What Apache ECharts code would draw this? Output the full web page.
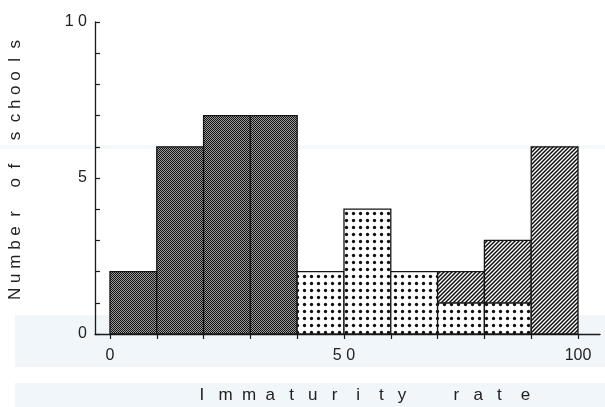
<!DOCTYPE html>
<html>
<head>
<meta charset="utf-8">
<script src="https://cdn.jsdelivr.net/npm/echarts@6/dist/echarts.min.js"></script>
<style>
html,body{margin:0;padding:0;background:#fff;}
#chart{width:605px;height:407px;}
</style>
</head>
<body>
<div id="chart"></div>
<script>
// ---- data ----
const binStarts = [0, 10, 20, 30, 40, 50, 60, 70, 80, 90];
const binWidth = 10;
const solidCounts   = [2, 6, 7, 7, 0, 0, 0, 0, 0, 0];
const dottedCounts  = [0, 0, 0, 0, 2, 4, 2, 1, 1, 0];
const hatchedCounts = [0, 0, 0, 0, 0, 0, 0, 1, 2, 6];
const xTickValues  = [0, 10, 20, 30, 40, 50, 60, 70, 80, 90, 100];
const xLabelValues = [0, 50, 100];
const xLabelTexts  = ['0', '5 0', '100'];
const yLabelValues = [0, 5, 10];
const yLabelTexts  = ['0', '5', '1 0'];

function sp(n) { return ' '.repeat(n); }
const yTitle = 'N' + sp(1) + 'u' + sp(1) + 'm' + sp(1) + 'b' + sp(1) + 'e' + sp(2) + 'r' + sp(5) +
               'o' + sp(2) + 'f' + sp(5) +
               's' + sp(2) + 'c' + sp(1) + 'h' + sp(1) + 'o' + sp(1) + 'o' + sp(2) + 'l' + sp(2) + 's';
const xTitle = 'I' + sp(3) + 'm' + sp(2) + 'm' + sp(2) + 'a' + sp(3) + 't' + sp(3) + 'u' + sp(3) + 'r' + sp(4) +
               'i' + sp(4) + 't' + sp(3) + 'y' + sp(10) +
               'r' + sp(3) + 'a' + sp(3) + 't' + sp(4) + 'e';

// ---- fill patterns ----
function makeCanvas(w, h) { const c = document.createElement('canvas'); c.width = w; c.height = h; return c; }
function darkPattern() {
  const c = makeCanvas(4, 4), g = c.getContext('2d');
  g.fillStyle = '#9c9c9c'; g.fillRect(0, 0, 4, 4);
  g.fillStyle = '#111';
  for (let i = 0; i < 4; i++) for (let j = 0; j < 4; j++) if ((i + j) % 2 === 0) g.fillRect(i, j, 1, 1);
  return c;
}
function dotPattern() {
  const c = makeCanvas(7, 7), g = c.getContext('2d');
  g.fillStyle = '#fff'; g.fillRect(0, 0, 7, 7);
  g.fillStyle = '#111';
  g.beginPath(); g.arc(3.5, 3.5, 1.65, 0, Math.PI * 2); g.fill();
  return c;
}
function hatchPattern() {
  const s = 4, c = makeCanvas(s, s), g = c.getContext('2d');
  g.fillStyle = '#fff'; g.fillRect(0, 0, s, s);
  g.strokeStyle = '#111'; g.lineWidth = 1.5;
  g.beginPath();
  g.moveTo(-1, s + 1); g.lineTo(s + 1, -1);
  g.moveTo(-1, 1); g.lineTo(1, -1);
  g.moveTo(s - 1, s + 1); g.lineTo(s + 1, s - 1);
  g.stroke();
  return c;
}
const fills = {
  solid:   { image: darkPattern(),  repeat: 'repeat' },
  dotted:  { image: dotPattern(),   repeat: 'repeat' },
  hatched: { image: hatchPattern(), repeat: 'repeat' }
};

// build rect data [x0, x1, base, top]
function buildData(counts, bases) {
  const out = [];
  binStarts.forEach((s, i) => {
    if (counts[i] > 0) {
      const b = bases ? bases[i] : 0;
      out.push([s, s + binWidth, b, b + counts[i]]);
    }
  });
  return out;
}
const baseHatched = binStarts.map((_, i) => solidCounts[i] + dottedCounts[i]);
const baseDotted = solidCounts.slice();

function makeSeries(name, data, fill) {
  return {
    type: 'custom', name: name, data: data, z: 3,
    encode: { x: [0, 1], y: [2, 3] },
    renderItem: function (params, api) {
      const p0 = api.coord([api.value(0), api.value(3)]);
      const p1 = api.coord([api.value(1), api.value(2)]);
      return {
        type: 'rect',
        shape: { x: p0[0], y: p0[1], width: p1[0] - p0[0], height: p1[1] - p0[1] },
        style: { fill: fill, stroke: '#151515', lineWidth: 1.3 }
      };
    }
  };
}

const chart = echarts.init(document.getElementById('chart'), null, { renderer: 'canvas' });
const font = "'Liberation Sans', Arial, sans-serif";
chart.setOption({
  animation: false,
  backgroundColor: '#ffffff',
  grid: { left: 95, right: 5, top: 22, bottom: 73, containLabel: false, outerBoundsMode: 'none' },
  xAxis: {
    type: 'value', min: -3.2, max: 104.7,
    axisLine: { show: true, onZero: false, lineStyle: { color: '#1a1a1a', width: 1.3 } },
    axisTick: { show: true, inside: false, length: 5, customValues: xTickValues, lineStyle: { color: '#1a1a1a', width: 1.2 } },
    axisLabel: {
      show: true, customValues: xLabelValues, margin: 14,
      color: '#222', fontFamily: font, fontSize: 16,
      formatter: function (v) { const k = xLabelValues.indexOf(v); return k >= 0 ? xLabelTexts[k] : ''; }
    },
    splitLine: { show: false }
  },
  yAxis: {
    type: 'value', min: 0, max: 10, interval: 1,
    axisLine: { show: true, onZero: false, lineStyle: { color: '#1a1a1a', width: 1.3 } },
    axisTick: { show: true, inside: true, length: 5, lineStyle: { color: '#1a1a1a', width: 1.2 } },
    axisLabel: {
      show: true, margin: 8, color: '#222', fontFamily: font, fontSize: 16,
      formatter: function (v) { const k = yLabelValues.indexOf(v); return k >= 0 ? yLabelTexts[k] : ''; }
    },
    splitLine: { show: false }
  },
  graphic: [
    { type: 'rect', z: -10, silent: true, shape: { x: 15, y: 315, width: 590, height: 52 }, style: { fill: '#f0f6fa' } },
    { type: 'rect', z: -10, silent: true, shape: { x: 15, y: 383, width: 590, height: 24 }, style: { fill: '#f0f6fa' } },
    { type: 'rect', z: -10, silent: true, shape: { x: 0, y: 145, width: 605, height: 4 }, style: { fill: '#f5f9fc' } },
    { type: 'text', z: 10, x: 15, y: 170, rotation: Math.PI / 2,
      style: { text: yTitle, fill: '#222', font: '17px ' + font, align: 'center', verticalAlign: 'middle' } },
    { type: 'text', z: 10, x: 199.5, y: 395,
      style: { text: xTitle, fill: '#222', font: '17px ' + font, align: 'left', verticalAlign: 'middle' } }
  ],
  series: [
    makeSeries('solid', buildData(solidCounts), fills.solid),
    makeSeries('dotted', buildData(dottedCounts, baseDotted), fills.dotted),
    makeSeries('hatched', buildData(hatchedCounts, baseHatched), fills.hatched)
  ]
});
</script>
</body>
</html>
